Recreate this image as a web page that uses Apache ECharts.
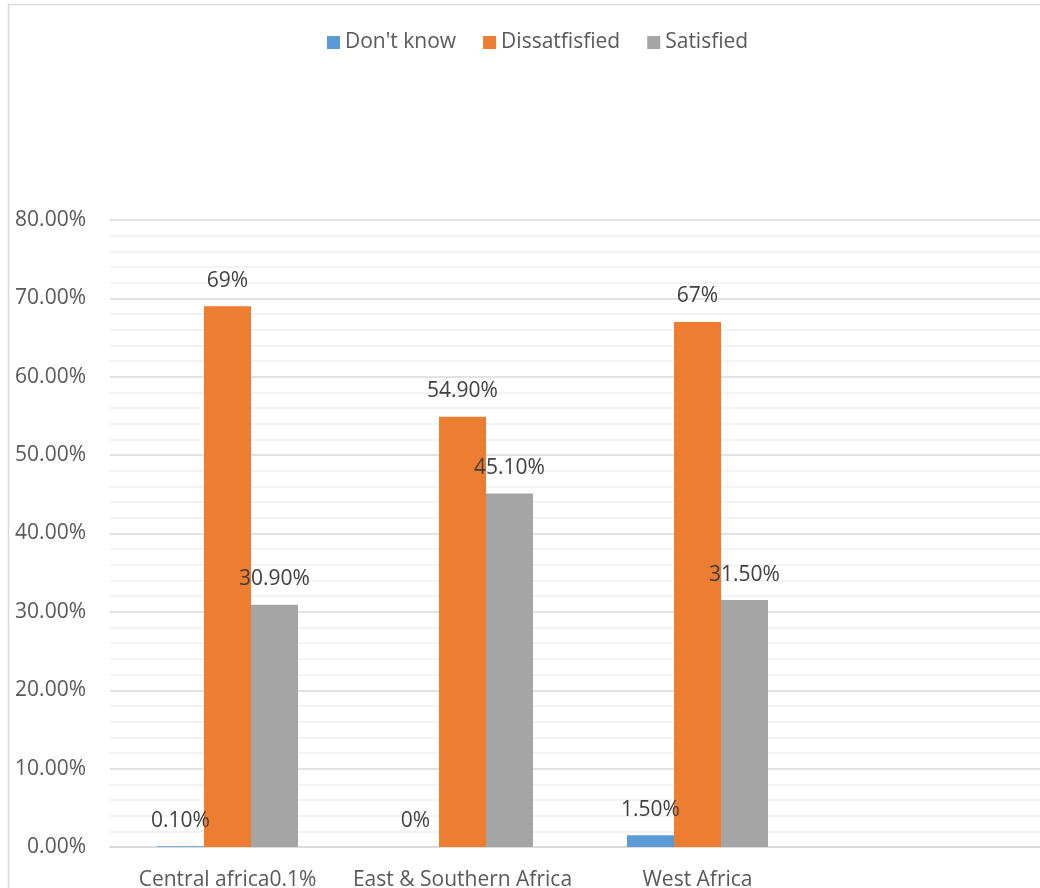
<!DOCTYPE html>
<html>
<head>
<meta charset="utf-8">
<script src="https://cdn.jsdelivr.net/npm/echarts@6/dist/echarts.min.js"></script>
<style>html,body{margin:0;padding:0;background:#fff;}#c{width:1040px;height:888px;}</style>
</head>
<body>
<div id="c"></div>
<script>
const categories = ['Central africa0.1%', 'East & Southern Africa', 'West Africa', ''];
const seriesNames = ["Don't know", 'Dissatfisfied', 'Satisfied'];
const dontKnow = [0.001, 0, 0.015, null];
const dissatisfied = [0.69, 0.549, 0.67, null];
const satisfied = [0.309, 0.451, 0.315, null];
const dontKnowLabels = ['0.10%', '0%', '1.50%', ''];
const dissatisfiedLabels = ['69%', '54.90%', '67%', ''];
const satisfiedLabels = ['30.90%', '45.10%', '31.50%', ''];

const colors = ['#5b9bd5', '#ed7d31', '#a5a5a5'];
const font = '"Open Sans", "Noto Sans", sans-serif';

function mk(name, data, labels, color) {
  return {
    name: name, type: 'bar', data: data,
    barWidth: 47, barGap: '0%', barCategoryGap: '40%',
    itemStyle: { color: color },
    label: {
      show: true, position: 'top', distance: 15,
      fontFamily: font, fontSize: 21, color: '#404040',
      formatter: p => labels[p.dataIndex]
    }
  };
}

const chart = echarts.init(document.getElementById('c'));
chart.setOption({
  animation: false,
  backgroundColor: '#fff',
  graphic: [{
    type: 'rect', shape: { x: 8.5, y: 4.5, width: 1100, height: 1000 },
    style: { fill: 'none', stroke: '#d9d9d9', lineWidth: 1.5 }, silent: true, z: -10
  }],
  legend: {
    top: 27, left: 322, itemWidth: 13, itemHeight: 13, itemGap: 27,
    icon: 'rect',
    textStyle: { fontFamily: font, fontSize: 21, color: '#595959' },
    data: seriesNames
  },
  grid: { left: 110, right: -10, top: 220, bottom: 41, containLabel: false, outerBoundsMode: 'none' },
  xAxis: {
    type: 'category', data: categories,
    axisLine: { lineStyle: { color: '#d9d9d9', width: 1.5 } },
    axisTick: { show: false },
    axisLabel: { fontFamily: font, fontSize: 21, color: '#595959', margin: 23, interval: 0 }
  },
  yAxis: {
    type: 'value', min: 0, max: 0.8, interval: 0.1,
    axisLine: { show: false }, axisTick: { show: false },
    axisLabel: {
      fontFamily: font, fontSize: 21, color: '#595959', margin: 24,
      formatter: v => (v * 100).toFixed(2) + '%'
    },
    splitLine: { lineStyle: { color: '#d9d9d9', width: 1.5 } },
    minorTick: { show: false, splitNumber: 5 },
    minorSplitLine: { show: true, lineStyle: { color: '#f0f0f0', width: 1.5 } }
  },
  series: [
    mk(seriesNames[0], dontKnow, dontKnowLabels, colors[0]),
    mk(seriesNames[1], dissatisfied, dissatisfiedLabels, colors[1]),
    mk(seriesNames[2], satisfied, satisfiedLabels, colors[2])
  ]
});
</script>
</body>
</html>
